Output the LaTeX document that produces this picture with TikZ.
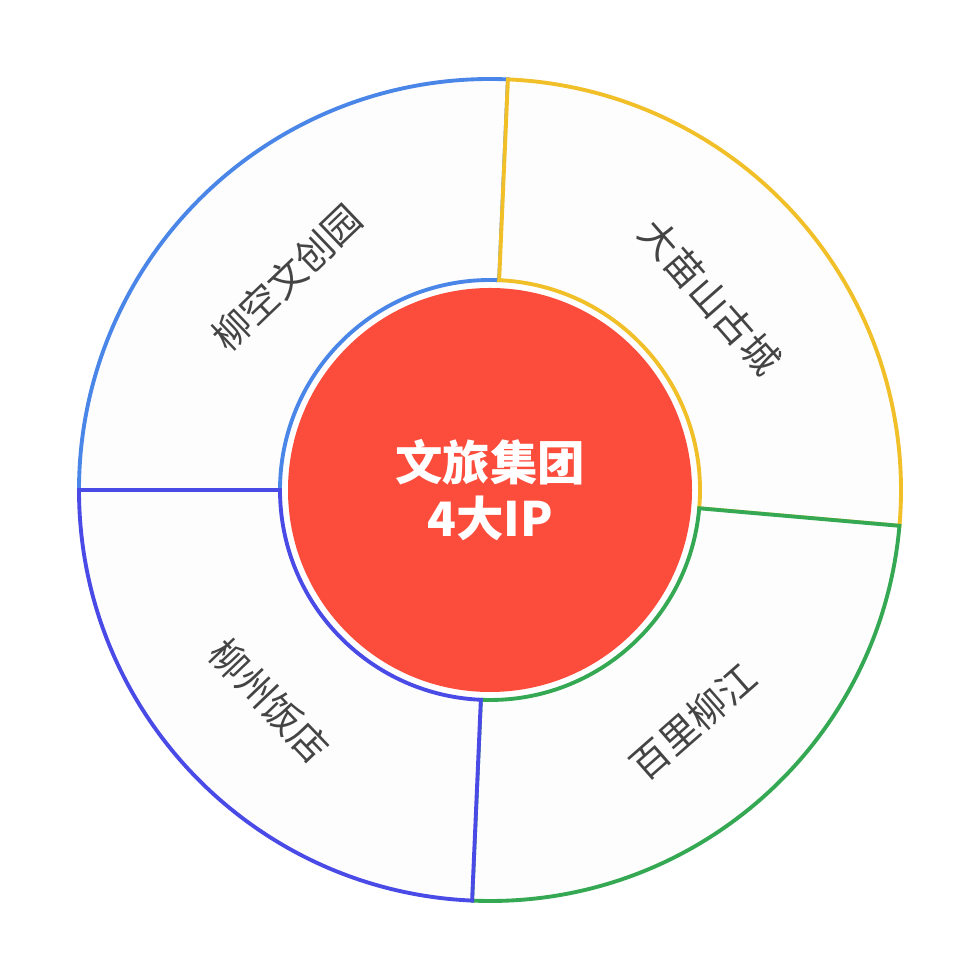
\documentclass[tikz,border=0pt]{standalone}
\usepackage{fontspec}
\setmainfont{Noto Sans CJK SC}
\usetikzlibrary{positioning}
\definecolor{ipred}{RGB}{252,76,60}
\definecolor{segblue}{RGB}{74,134,232}
\definecolor{segyel}{RGB}{241,191,40}
\definecolor{seggrn}{RGB}{52,168,83}
\definecolor{segpur}{RGB}{74,74,230}
\definecolor{txt}{RGB}{68,68,68}
\begin{document}
\begin{tikzpicture}[font=\fontsize{10.8}{13}\selectfont,
  seg/.style={line width=1.1pt,fill=black!0.6,line join=miter},
  lbl/.style={text=txt,inner sep=0pt},
  hub/.style={circle,fill=ipred,minimum size=40.4mm,inner sep=0pt,align=center,text=white,font=\fontsize{13.5}{16}\selectfont\bfseries}]
  \useasboundingbox[fill=white] (-4.9,-4.9) rectangle (4.9,4.9);
  % four IP sectors
  \draw[seg,draw=segblue] (87.5:2.1) arc (87.5:180:2.1) -- (180:4.11) arc (180:87.5:4.11) -- cycle;
  \draw[seg,draw=segyel] (-5:2.1) arc (-5:87.5:2.1) -- (87.5:4.11) arc (87.5:-5:4.11) -- cycle;
  \draw[seg,draw=seggrn] (-92.5:2.1) arc (-92.5:-5:2.1) -- (-5:4.11) arc (-5:-92.5:4.11) -- cycle;
  \draw[seg,draw=segpur] (180:2.1) arc (180:267.5:2.1) -- (267.5:4.11) arc (267.5:180:4.11) -- cycle;
  \node[hub] (hub) at (0,0) {文旅集团\\4大IP};
  \node[lbl,rotate=43.75] (liukong) at (133.75:2.94) {柳空文创园};
  \node[lbl,rotate=-48.75] (damiao) at (41.25:2.93) {大苗山古城};
  \node[lbl,rotate=41.25] (baili) at (-48.75:3.08) {百里柳江};
  \node[lbl,rotate=-46.25] (fandian) at (223.75:3.05) {柳州饭店};
\end{tikzpicture}
\end{document}
